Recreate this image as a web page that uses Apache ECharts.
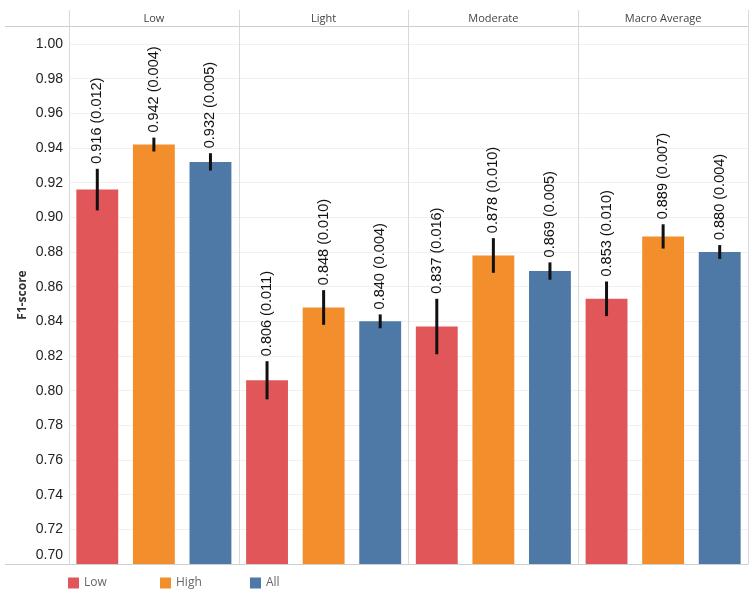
<!DOCTYPE html>
<html>
<head>
<meta charset="utf-8">
<script src="https://cdn.jsdelivr.net/npm/echarts@6/dist/echarts.min.js"></script>
<style>html,body{margin:0;padding:0;background:#fff}#c{width:755px;height:594px}</style>
</head>
<body>
<div id="c"></div>
<script>
// ---- data ----
const panels = ['Low', 'Light', 'Moderate', 'Macro Average'];
const groups = ['Low', 'High', 'All'];
const lowMean  = [0.916, 0.806, 0.837, 0.853];
const lowSd    = [0.012, 0.011, 0.016, 0.010];
const highMean = [0.942, 0.848, 0.878, 0.889];
const highSd   = [0.004, 0.010, 0.010, 0.007];
const allMean  = [0.932, 0.840, 0.869, 0.880];
const allSd    = [0.005, 0.004, 0.005, 0.004];
const yMin = 0.70, yStep = 0.02;

// ---- layout / style ----
const colors = ['#E15759', '#F28E2B', '#4E79A7'];
const G = {left: 69, right: 7, top: 26, bottom: 30};
const headerTop = 10;
const legendLefts = [63, 155, 245];
const means = [lowMean, highMean, allMean];
const sds = [lowSd, highSd, allSd];

const slots = [];
panels.forEach(p => groups.forEach(g => slots.push(p + '|' + g)));

const barSeries = groups.map((g, gi) => ({
  name: g,
  type: 'bar',
  xAxisIndex: 1,
  yAxisIndex: 0,
  barWidth: '74%',
  barGap: '-100%',
  itemStyle: {color: colors[gi]},
  data: slots.map((s, i) => (i % 3 === gi ? means[gi][Math.floor(i / 3)] : '-'))
}));

const errData = [];
const errLabels = [];
panels.forEach((p, pi) => groups.forEach((g, gi) => {
  const m = means[gi][pi], s = sds[gi][pi];
  errData.push([pi * 3 + gi, m, s]);
  errLabels.push(m.toFixed(3) + ' (' + s.toFixed(3) + ')');
}));

const errSeries = {
  type: 'custom',
  xAxisIndex: 1,
  yAxisIndex: 0,
  z: 5,
  encode: {x: 0, y: 1},
  data: errData,
  renderItem: function (params, api) {
    const x = api.value(0), m = api.value(1), s = api.value(2);
    const t = api.coord([x, m + s]);
    const b = api.coord([x, m - s]);
    return {
      type: 'group',
      children: [
        {type: 'line', shape: {x1: t[0], y1: t[1], x2: b[0], y2: b[1]},
         style: {stroke: '#111', lineWidth: 3}},
        {type: 'text', x: t[0], y: t[1] - 5, rotation: Math.PI / 2,
         style: {text: errLabels[params.dataIndex], textAlign: 'left', textVerticalAlign: 'middle',
                 font: '14.5px "Liberation Sans", Arial, sans-serif', fill: '#111'}}
      ]
    };
  }
};

const legends = groups.map((g, gi) => ({
  data: [g], left: legendLefts[gi], top: 572, itemWidth: 11, itemHeight: 11,
  icon: 'rect', selectedMode: false,
  textStyle: {fontSize: 12, color: '#666', fontFamily: '"Open Sans", sans-serif'}
}));

const chart = echarts.init(document.getElementById('c'), null, {renderer: 'canvas'});
chart.setOption({
  animation: false,
  grid: [
    {left: G.left, right: G.right, top: G.top, bottom: G.bottom},
    {left: G.left, right: G.right, top: headerTop, height: G.top - headerTop}
  ],
  xAxis: [
    {type: 'category', gridIndex: 0, data: panels, position: 'bottom',
     axisLine: {show: true, lineStyle: {color: '#cfcfcf', width: 1}},
     axisTick: {show: false}, axisLabel: {show: false},
     splitLine: {show: true, lineStyle: {color: '#d9d9d9', width: 1}}},
    {type: 'category', gridIndex: 0, data: slots, position: 'top', show: false},
    {type: 'category', gridIndex: 1, data: panels, position: 'bottom',
     axisLine: {show: true, lineStyle: {color: '#cfcfcf', width: 1}},
     axisTick: {show: false},
     axisLabel: {inside: true, margin: 7, verticalAlign: 'middle', fontSize: 11, color: '#444',
                 fontFamily: '"Open Sans", sans-serif'},
     splitLine: {show: true, lineStyle: {color: '#d9d9d9', width: 1}}}
  ],
  yAxis: [
    {type: 'value', gridIndex: 0, min: yMin, max: 1.0104, interval: yStep,
     name: 'F1-score', nameLocation: 'middle', nameGap: 40, nameMoveOverlap: false,
     nameTextStyle: {fontWeight: 'bold', fontSize: 12, color: '#333', fontFamily: '"Open Sans", sans-serif'},
     axisLine: {show: false}, axisTick: {show: false},
     axisLabel: {
       margin: 6, showMaxLabel: false, color: '#222', fontSize: 14,
       fontFamily: '"Liberation Sans", Arial, sans-serif',
       formatter: function (v) {
         return Math.abs(v - yMin) < 1e-6 ? '{lo|' + v.toFixed(2) + '}' : '{n|' + v.toFixed(2) + '}';
       },
       rich: {
         lo: {fontSize: 14, color: '#222', fontFamily: '"Liberation Sans", Arial, sans-serif', padding: [0, 0, 18, 0]},
         n: {fontSize: 14, color: '#222', fontFamily: '"Liberation Sans", Arial, sans-serif'}
       }
     },
     splitLine: {show: true, showMaxLine: false, lineStyle: {color: '#f0f0f0', width: 1}}},
    {type: 'value', gridIndex: 1, show: false, min: 0, max: 1}
  ],
  legend: legends,
  graphic: [
    {type: 'line', shape: {x1: 5, y1: G.top + 0.5, x2: G.left, y2: G.top + 0.5},
     style: {stroke: '#cfcfcf', lineWidth: 1}, silent: true},
    {type: 'line', shape: {x1: 5, y1: 594 - G.bottom + 0.5, x2: G.left, y2: 594 - G.bottom + 0.5},
     style: {stroke: '#cfcfcf', lineWidth: 1}, silent: true}
  ],
  series: barSeries.concat([errSeries])
});
</script>
</body>
</html>
